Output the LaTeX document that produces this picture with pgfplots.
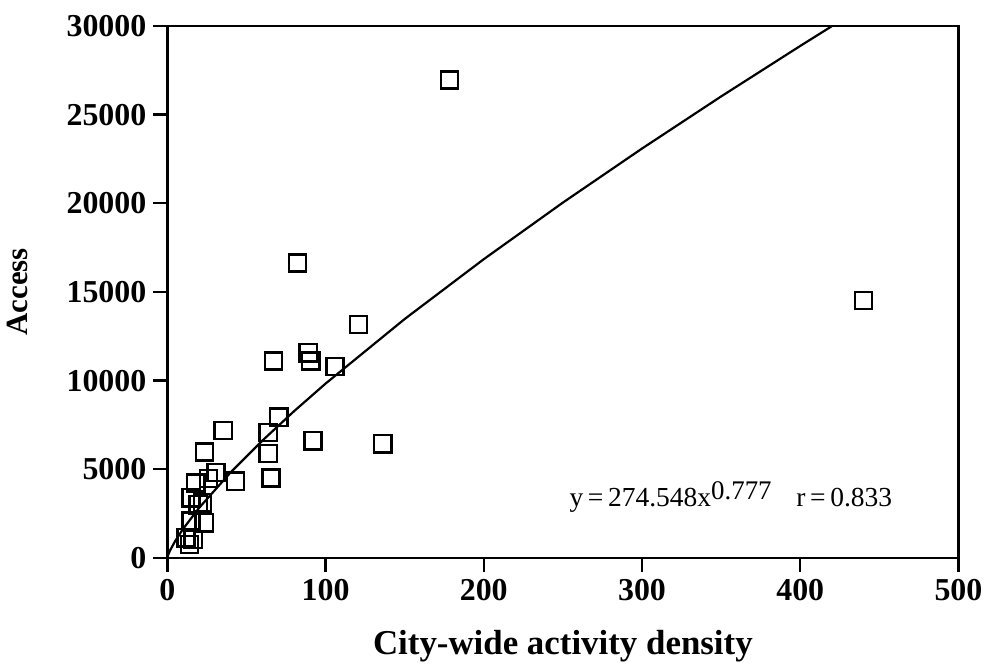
\documentclass[border=0pt]{standalone}
\usepackage{fontspec}
\setmainfont{Liberation Serif}
\usepackage{pgfplots}
\pgfplotsset{compat=1.18}

\begin{document}
\begin{tikzpicture}
\begin{axis}[
  scale only axis,
  width=397pt, height=267pt,
  xmin=0, xmax=500,
  ymin=0, ymax=30000,
  xtick={0,100,...,500},
  ytick={0,5000,...,30000},
  scaled ticks=false,
  /pgf/number format/assume math mode=true,
  /pgf/number format/1000 sep={},
  ticklabel style={font=\bfseries\fontsize{16}{19}\selectfont},
  xtick pos=bottom, ytick pos=left,
  tick align=outside,
  major tick length=7pt,
  every tick/.style={black, line width=1.2pt},
  axis line style={line width=1.2pt},
  xlabel={City-wide activity density},
  ylabel={Access},
  xlabel style={font=\bfseries\fontsize{17.5}{20}\selectfont,
    at={(axis description cs:0.5,-0.165)}, anchor=center},
  ylabel style={font=\bfseries\fontsize{15.5}{18}\selectfont,
    at={(axis description cs:-0.19,0.5)}, anchor=center},
  clip=false,
]
% fitted power curve y = 274.548 x^0.777 (precomputed values)
\addplot[black, line width=1.1pt, no marks] coordinates {
  (0,0) (0.5,160) (1,275) (2,470) (5,959) (10,1643) (20,2816) (40,4824)
  (60,6611) (80,8267) (100,9831) (150,13472) (200,16846) (250,20037)
  (300,23084) (350,26022) (400,28869) (420,29984)
};

% observations
\addplot[only marks, mark=square, mark size=4.3pt,
  mark options={line width=1.2pt, black}] coordinates {
  (178.2,26950) (440,14530) (82.3,16630) (120.9,13160) (67.2,11110)
  (89,11570) (90.7,11110) (106,10790) (70.5,7940) (63.8,7080)
  (92.1,6610) (136.2,6440) (63.8,5880) (65.5,4510) (35.3,7190)
  (43.2,4330) (23.5,5970) (30.7,4830) (26,4480) (18,4230)
  (14.9,3390) (22.2,3110) (19.5,3000) (14.9,2080) (23.3,1980)
  (16.4,1050) (13.9,770) (11.8,1140)
};

\node[anchor=base west, font=\fontsize{13.8}{16}\selectfont, inner sep=0pt]
  at (axis cs:254,2900) {y\,=\,274.548x\raisebox{0.55ex}{\fontsize{13.5}{16}\selectfont 0.777}\hspace{0.9em}r\,=\,0.833};
% a little white room above the top tick label
\path (rel axis cs:0,1) ++(0,13pt) coordinate (topspace);
\end{axis}
\end{tikzpicture}
\end{document}
